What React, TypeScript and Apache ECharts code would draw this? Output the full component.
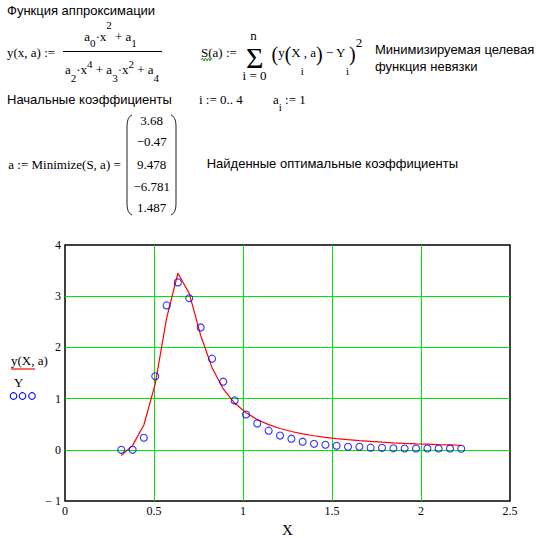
import React, { useEffect, useRef } from 'react';
import * as echarts from 'echarts';

// Data points X_i and measured Y_i (blue circles)
const X_VALUES = [0.316, 0.380, 0.443, 0.507, 0.571, 0.634, 0.698, 0.762, 0.826, 0.889, 0.953, 1.017, 1.080, 1.144, 1.208, 1.272, 1.335, 1.399, 1.463, 1.526, 1.590, 1.654, 1.717, 1.781, 1.845, 1.908, 1.972, 2.036, 2.099, 2.163, 2.226];
const Y_DATA = [0.0, 0.0, 0.235, 1.437, 2.82, 3.27, 2.96, 2.39, 1.78, 1.33, 0.965, 0.69, 0.516, 0.374, 0.278, 0.217, 0.158, 0.118, 0.098, 0.078, 0.059, 0.059, 0.042, 0.039, 0.03, 0.026, 0.026, 0.026, 0.026, 0.026, 0.02];
// Fitted curve y(X_i, a) (red line)
const Y_FIT = [-0.113, 0.087, 0.484, 1.286, 2.573, 3.448, 3.055, 2.237, 1.604, 1.191, 0.913, 0.723, 0.591, 0.491, 0.416, 0.358, 0.312, 0.275, 0.244, 0.218, 0.197, 0.178, 0.163, 0.149, 0.137, 0.126, 0.117, 0.109, 0.101, 0.095, 0.089];
// Optimal coefficients shown in the matrix
const COEFFS = ['3.68', '−0.47', '9.478', '−6.781', '1.487'];

const SERIF = '"Liberation Serif", "Times New Roman", serif';
const SANS = '"Liberation Sans", Arial, sans-serif';

let measureCtx: CanvasRenderingContext2D | null = null;
function textWidth(text: string, size: number, family: string) {
  if (!measureCtx) measureCtx = document.createElement('canvas').getContext('2d');
  if (!measureCtx) return text.length * size * 0.5;
  measureCtx.font = `${size}px ${family}`;
  return measureCtx.measureText(text).width;
}

function txt(x: number, y: number, text: string, family: string, size: number, align = 'left') {
  return {
    type: 'text',
    x,
    y,
    silent: true,
    style: {
      text,
      fill: '#000',
      fontFamily: family,
      fontSize: size,
      textAlign: align,
      textVerticalAlign: 'middle',
    },
  };
}

// pieces: [text, fontSize, yCenter]
function formula(x: number, pieces: [string, number, number][], align: 'left' | 'center' = 'left') {
  const widths = pieces.map(([t, s]) => textWidth(t, s, SERIF));
  const total = widths.reduce((a, b) => a + b, 0);
  let cx = align === 'center' ? x - total / 2 : x;
  const out: any[] = [];
  pieces.forEach(([t, s, y], i) => {
    const lead = t.length - t.replace(/^\s+/, '').length;
    const trimmed = t.trim();
    const off = lead ? textWidth(t.slice(0, lead), s, SERIF) : 0;
    if (trimmed) out.push(txt(cx + off, y, trimmed, SERIF, s));
    cx += widths[i];
  });
  return out;
}

function line(x1: number, y1: number, x2: number, y2: number, color: string, w = 1) {
  return { type: 'line', silent: true, shape: { x1, y1, x2, y2 }, style: { stroke: color, lineWidth: w } };
}

function bez(x1: number, y1: number, cx: number, cy: number, x2: number, y2: number) {
  return { type: 'bezierCurve', silent: true, shape: { x1, y1, cpx1: cx, cpy1: cy, x2, y2 }, style: { stroke: '#222', lineWidth: 1, fill: 'none' } };
}

export default function App() {
  const ref = useRef<HTMLDivElement>(null);
  useEffect(() => {
    if (!ref.current) return;
    const chart = echarts.init(ref.current, undefined, { renderer: 'svg' });

    const NB = 36, NSUB = 42.5, NSUP = 25;
    const DB = 69, DSUB = 77.5, DSUP = 63.5;
    const SB = 52.7, SSUB = 71, SSUP = 42;

    const graphics: any[] = [
      txt(7, 10, 'Функция аппроксимации', SANS, 13),
      txt(7, SB, 'y(x, a) :=', SERIF, 13),
      ...formula(110.5, [
        ['a', 13, NB], ['0', 11, NSUB], ['·x', 13, NB], ['2', 11, NSUP], [' + a', 13, NB], ['1', 11, NSUB],
      ], 'center'),
      line(63, 51.5, 162, 51.5, '#000', 1),
      ...formula(112, [
        ['a', 13, DB], ['2', 11, DSUB], ['·x', 13, DB], ['4', 11, DSUP], [' + a', 13, DB], ['3', 11, DSUB],
        ['·x', 13, DB], ['2', 11, DSUP], [' + a', 13, DB], ['4', 11, DSUB],
      ], 'center'),
      txt(201, SB, 'S(a) :=', SERIF, 13),
      { type: 'polyline', silent: true, shape: { points: [[201, 60], [202.5, 58], [204, 61], [205.5, 58], [207, 61], [208.5, 58], [210, 61], [211.5, 58]] }, style: { stroke: '#2a9a2a', lineWidth: 1, fill: 'none' } },
      txt(254.7, 57.5, 'Σ', SERIF, 30, 'center'),
      txt(253.5, 35, 'n', SERIF, 13, 'center'),
      txt(254.5, 75, 'i = 0', SERIF, 13, 'center'),
      ...formula(271.5, [
        ['(', 20, 53.5], ['y', 13, SB], ['(', 20, 53.5], ['X', 13, SB], ['i', 11, SSUB], [', a', 13, SB],
        [')', 20, 53.5], [' − Y', 13, SB], ['i', 11, SSUB], [')', 20, 53.5], ['2', 13, SSUP],
      ]),
      txt(375, 49, 'Минимизируемая целевая', SANS, 13),
      txt(375, 66, 'функция невязки', SANS, 13),
      txt(7, 99.5, 'Начальные коэффициенты', SANS, 13),
      txt(199, 99.3, 'i := 0.. 4', SERIF, 13),
      ...formula(273, [['a', 13, 99.3], ['i', 11, 107], [' := 1', 13, 99.3]]),
      txt(8.3, 164.3, 'a := Minimize(S, a) =', SERIF, 13),
      // matrix brackets
      bez(132, 115, 127, 117, 127, 126),
      line(127, 126, 127, 204, '#222', 1),
      bez(127, 204, 127, 213, 132, 215),
      bez(171, 115, 176, 117, 176, 126),
      line(176, 126, 176, 204, '#222', 1),
      bez(176, 204, 176, 213, 171, 215),
      txt(206.7, 163.5, 'Найденные оптимальные коэффициенты', SANS, 13),
      // legend
      txt(11, 360, 'y(X, a)', SERIF, 13),
      line(11, 369, 35, 369, '#ff0000', 1.2),
      txt(14, 382, 'Y', SERIF, 13),
      { type: 'circle', silent: true, shape: { cx: 13.5, cy: 396, r: 3.3 }, style: { stroke: '#0000ff', fill: 'none', lineWidth: 1.1 } },
      { type: 'circle', silent: true, shape: { cx: 22.5, cy: 396, r: 3.3 }, style: { stroke: '#0000ff', fill: 'none', lineWidth: 1.1 } },
      { type: 'circle', silent: true, shape: { cx: 32, cy: 396, r: 3.3 }, style: { stroke: '#0000ff', fill: 'none', lineWidth: 1.1 } },
    ];
    const ys = [120, 141.7, 164.3, 186, 207.7];
    COEFFS.forEach((c, i) => graphics.push(txt(151.7, ys[i], c, SERIF, 13, 'center')));

    chart.setOption({
      animation: false,
      backgroundColor: '#fff',
      grid: {
        left: 65,
        right: 36,
        top: 245,
        bottom: 37,
        show: true,
        borderColor: '#000',
        borderWidth: 1.5,
        backgroundColor: 'transparent',
      },
      xAxis: {
        type: 'value',
        min: 0,
        max: 2.5,
        interval: 0.5,
        name: 'X',
        nameLocation: 'middle',
        nameGap: 21,
        nameTextStyle: { fontFamily: SERIF, fontSize: 15, color: '#000' },
        axisLine: { show: false },
        axisTick: { show: false },
        axisLabel: { fontFamily: SERIF, fontSize: 12, color: '#000', margin: 4 },
        splitLine: { show: true, showMinLine: false, showMaxLine: false, lineStyle: { color: '#00e600', width: 1 } },
      },
      yAxis: {
        type: 'value',
        min: -1,
        max: 4,
        interval: 1,
        axisLine: { show: false },
        axisTick: { show: false },
        axisLabel: {
          fontFamily: SERIF,
          fontSize: 12,
          color: '#000',
          margin: 4,
          formatter: (v: number) => (v < 0 ? '− ' + Math.abs(v) : String(v)),
        },
        splitLine: { show: true, showMinLine: false, showMaxLine: false, lineStyle: { color: '#00e600', width: 1 } },
      },
      series: [
        {
          type: 'line',
          data: X_VALUES.map((x, i) => [x, Y_FIT[i]]),
          showSymbol: false,
          symbol: 'none',
          lineStyle: { color: '#ff0000', width: 1.2 },
          z: 3,
        },
        {
          type: 'scatter',
          data: X_VALUES.map((x, i) => [x, Y_DATA[i]]),
          symbol: 'circle',
          symbolSize: 7,
          itemStyle: { color: 'rgba(0,0,0,0)', borderColor: '#0000ff', borderWidth: 1.1 },
          z: 4,
        },
      ],
      graphic: graphics,
    });
    return () => chart.dispose();
  }, []);

  return (
    <div
      ref={ref}
      style={{ position: 'absolute', left: 0, top: 0, width: 546, height: 538, background: '#fff' }}
    />
  );
}
